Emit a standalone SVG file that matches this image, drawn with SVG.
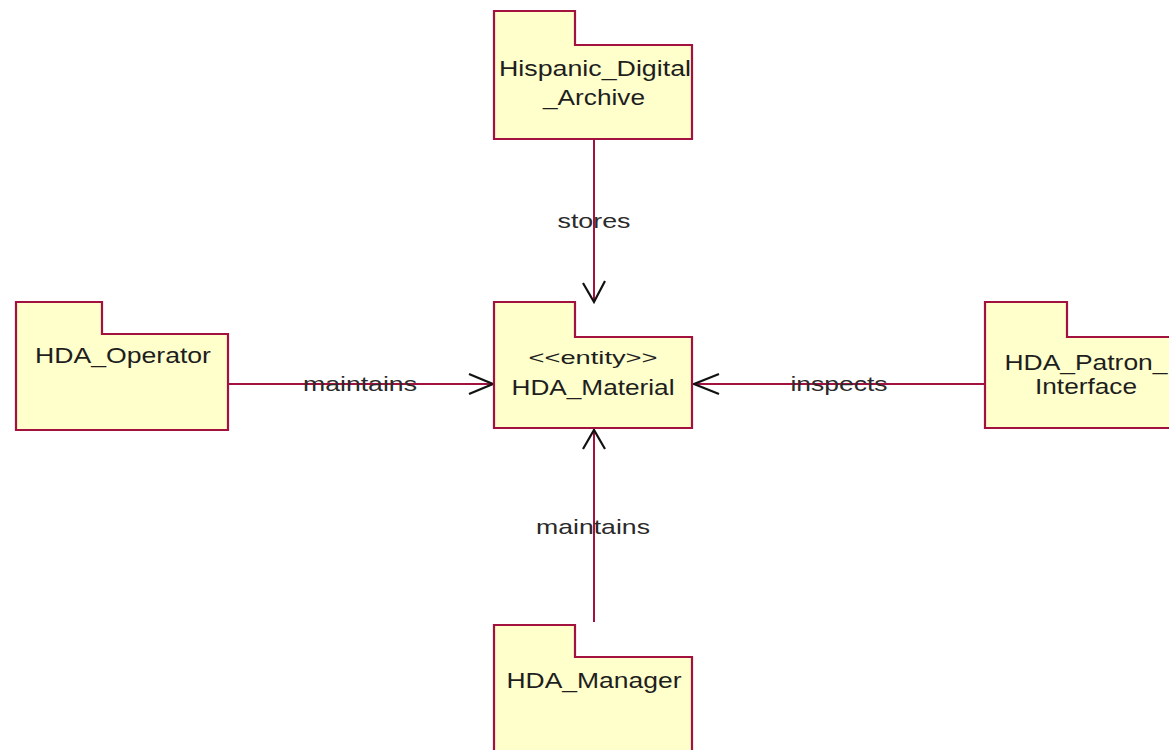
<svg xmlns="http://www.w3.org/2000/svg" width="1169" height="750" viewBox="0 0 1169 750">
<style>
.pkg{fill:#ffffcc;stroke:#a3123f;stroke-width:2.2}
.t{font-family:"Liberation Sans",Arial,sans-serif;font-size:22px;fill:#1e1e1e;text-anchor:middle}
.l{font-family:"Liberation Sans",Arial,sans-serif;font-size:21px;fill:#2a2a2a;text-anchor:middle}
.c{stroke:#a3123f;stroke-width:2;fill:none}
.a{stroke:#111;stroke-width:2.2;fill:none}
</style>
<rect width="1169" height="750" fill="#ffffff"/>
<g id="connectors">
<line class="c" x1="594" y1="139" x2="594" y2="302"/>
<polyline class="a" points="583,283 594,302 605,281"/>
<text class="l" x="594" y="228" textLength="73" lengthAdjust="spacingAndGlyphs">stores</text>
<line class="c" x1="228" y1="384" x2="494" y2="384"/>
<polyline class="a" points="469,374 493,384 469,394"/>
<text class="l" x="360" y="391" textLength="114" lengthAdjust="spacingAndGlyphs">maintains</text>
<line class="c" x1="985" y1="384" x2="692" y2="384"/>
<polyline class="a" points="719,374 694,384 719,394"/>
<text class="l" x="839" y="391" textLength="97" lengthAdjust="spacingAndGlyphs">inspects</text>
<line class="c" x1="594" y1="622" x2="594" y2="429"/>
<polyline class="a" points="583,449 594,430 605,449"/>
<text class="l" x="593" y="534" textLength="114" lengthAdjust="spacingAndGlyphs">maintains</text>
</g>
<g id="Hispanic_Digital_Archive">
<path class="pkg" d="M494,11 H575 V45 H692 V139 H494 Z"/>
<text class="t" x="595" y="76" textLength="192" lengthAdjust="spacingAndGlyphs">Hispanic_Digital</text>
<text class="t" x="594" y="105" textLength="102" lengthAdjust="spacingAndGlyphs">_Archive</text>
</g>
<g id="HDA_Operator">
<path class="pkg" d="M16,302 H102 V334 H228 V430 H16 Z"/>
<text class="t" x="123" y="363" textLength="176" lengthAdjust="spacingAndGlyphs">HDA_Operator</text>
</g>
<g id="HDA_Material">
<path class="pkg" d="M494,302 H575 V337 H692 V428 H494 Z"/>
<text class="t" x="593" y="364" style="font-size:19px" textLength="129" lengthAdjust="spacingAndGlyphs">&lt;&lt;entity&gt;&gt;</text>
<text class="t" x="593" y="395" textLength="163" lengthAdjust="spacingAndGlyphs">HDA_Material</text>
</g>
<g id="HDA_Patron_Interface">
<path class="pkg" d="M985,302 H1067 V337 H1175 V428 H985 Z"/>
<text class="t" x="1086" y="370" textLength="163" lengthAdjust="spacingAndGlyphs">HDA_Patron_</text>
<text class="t" x="1086" y="394" textLength="102" lengthAdjust="spacingAndGlyphs">Interface</text>
</g>
<g id="HDA_Manager">
<path class="pkg" d="M494,625 H575 V657 H692 V760 H494 Z"/>
<text class="t" x="594" y="688" textLength="175" lengthAdjust="spacingAndGlyphs">HDA_Manager</text>
</g>
</svg>
